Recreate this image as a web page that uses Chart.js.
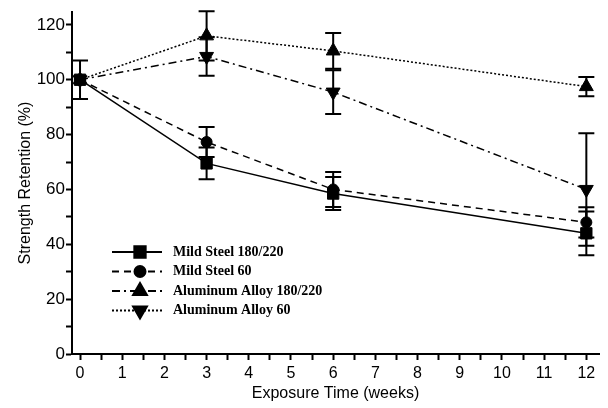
<!DOCTYPE html>
<html>
<head>
<meta charset="utf-8">
<script src="https://cdn.jsdelivr.net/npm/chart.js@4/dist/chart.umd.min.js"></script>
<style>
  html, body { margin: 0; padding: 0; background: #fff; }
  #wrap { width: 608px; height: 408px; }
</style>
</head>
<body>
<div id="wrap"><canvas id="chart" width="608" height="408"></canvas></div>
<script>
'use strict'

// weeks of exposure
const weeks = [0, 3, 6, 12];

// strength retention (%) per series
const steel180 = [100, 69.5, 58.5, 44];
const steel60 = [100, 77.3, 60, 48];
const alu180 = [100, 116, 110.5, 97.5];
const alu60 = [100, 108.5, 95.5, 60];

// +/- error per point
const steel180Err = [7, 5.8, 6, 8];
const steel60Err = [0, 5.5, 6.4, 5.5];
const alu180Err = [0, 9, 6.5, 3.5];
const alu60Err = [0, 7, 8, 20.5];

// ticks
const xTicks = [0, 1, 2, 3, 4, 5, 6, 7, 8, 9, 10, 11, 12];
const yTicks = [0, 20, 40, 60, 80, 100, 120];

const legendLabels = ['Mild Steel 180/220', 'Mild Steel 60', 'Aluminum Alloy 180/220', 'Aluminum Alloy 60'];

const toPoints = (vals) => weeks.map((w, i) => ({x: w, y: vals[i]}));

const series = [
    {label: legendLabels[0], data: steel180, err: steel180Err, style: 'rect', rot: 0, radius: 8, dash: []},
    {label: legendLabels[1], data: steel60, err: steel60Err, style: 'circle', rot: 0, radius: 5.5, dash: [7, 5]},
    {label: legendLabels[2], data: alu180, err: alu180Err, style: 'triangle', rot: 0, radius: 8, dash: [2, 2]},
    {label: legendLabels[3], data: alu60, err: alu60Err, style: 'triangle', rot: 180, radius: 8, dash: [8, 4, 2, 4]}
];

// legend in the picture has its own line styles
const legendDash = [[], [7, 5], [8, 4, 2, 4], [2, 2]];

/******************     ERROR BARS    ******************/
const errorBars = {
    id: 'errorBars',
    afterDatasetsDraw(chart) {
        const ctx = chart.ctx;
        const xs = chart.scales.x, ys = chart.scales.y;
        ctx.save();
        ctx.strokeStyle = '#000';
        ctx.lineWidth = 2;
        ctx.setLineDash([]);
        series.forEach(s => {
            s.data.forEach((v, i) => {
                if (!s.err[i]) return;
                const px = xs.getPixelForValue(weeks[i]);
                const top = ys.getPixelForValue(v + s.err[i]);
                const bot = ys.getPixelForValue(v - s.err[i]);
                ctx.beginPath();
                ctx.moveTo(px, top); ctx.lineTo(px, bot);
                ctx.moveTo(px - 8, top); ctx.lineTo(px + 8, top);
                ctx.moveTo(px - 8, bot); ctx.lineTo(px + 8, bot);
                ctx.stroke();
            });
        });
        ctx.restore();
    }
};

/******************     LEGEND    ******************/
const customLegend = {
    id: 'customLegend',
    afterDraw(chart) {
        const ctx = chart.ctx;
        ctx.save();
        ctx.font = 'bold 14px "Liberation Serif"';
        ctx.fillStyle = '#000';
        ctx.textBaseline = 'middle';
        series.forEach((s, i) => {
            const y = 252 + i * 19.5;
            ctx.strokeStyle = '#000';
            ctx.lineWidth = 2;
            ctx.setLineDash(legendDash[i]);
            ctx.beginPath();
            ctx.moveTo(112, y); ctx.lineTo(162, y);
            ctx.stroke();
            ctx.setLineDash([]);
            Chart.helpers.drawPoint(ctx, {pointStyle: s.style, rotation: s.rot, radius: s.radius, borderWidth: 1}, 140, y);
            ctx.fill();
            ctx.fillText(s.label, 173, y);
        });
        ctx.restore();
    }
};

const ctx = document.getElementById('chart');
const chart = new Chart(ctx, {
    type: 'line',
    data: {
        datasets: series.map(s => ({
            label: s.label,
            data: toPoints(s.data),
            borderColor: '#000',
            backgroundColor: '#000',
            borderWidth: 1.5,
            borderDash: s.dash,
            pointStyle: s.style,
            rotation: s.rot,
            pointRadius: s.radius,
            pointBorderWidth: 1,
            tension: 0
        }))
    },
    options: {
        responsive: false,
        animation: false,
        layout: {padding: {left: 16, right: 8, top: 12, bottom: 5}},
        plugins: {
            legend: {display: false},
            tooltip: {enabled: false}
        },
        scales: {
            x: {
                type: 'linear',
                min: -0.19,
                max: 12.3,
                afterFit: (s) => { s.height = 49; },
                afterBuildTicks: (s) => {
                    const t = [];
                    for (let v = 0; v <= 12; v += 0.5) t.push({value: v});
                    s.ticks = t;
                },
                border: {color: '#000', width: 2},
                grid: {drawOnChartArea: false, color: '#000', tickLength: 6, tickWidth: 2},
                ticks: {
                    color: '#000',
                    padding: 4,
                    maxRotation: 0,
                    autoSkip: false,
                    font: {family: '"Liberation Sans"', size: 16},
                    callback: (v) => xTicks.includes(v) ? String(v) : ''
                },
                title: {display: true, text: 'Exposure Time (weeks)', color: '#000', font: {family: '"Liberation Sans"', size: 16}, padding: 0}
            },
            y: {
                min: 0,
                max: 124.7,
                afterFit: (s) => { s.width = 56; },
                afterBuildTicks: (s) => {
                    const t = [];
                    for (let v = 0; v <= 120; v += 10) t.push({value: v});
                    s.ticks = t;
                },
                border: {color: '#000', width: 2},
                grid: {drawOnChartArea: false, color: '#000', tickLength: 6, tickWidth: 2},
                ticks: {
                    color: '#000',
                    padding: 1,
                    autoSkip: false,
                    font: {family: '"Liberation Sans"', size: 17},
                    callback: (v) => yTicks.includes(v) ? String(v) : ''
                },
                title: {display: true, text: 'Strength Retention (%)', color: '#000', font: {family: '"Liberation Sans"', size: 16}, padding: 0}
            }
        }
    },
    plugins: [errorBars, customLegend]
});
</script>
</body>
</html>
